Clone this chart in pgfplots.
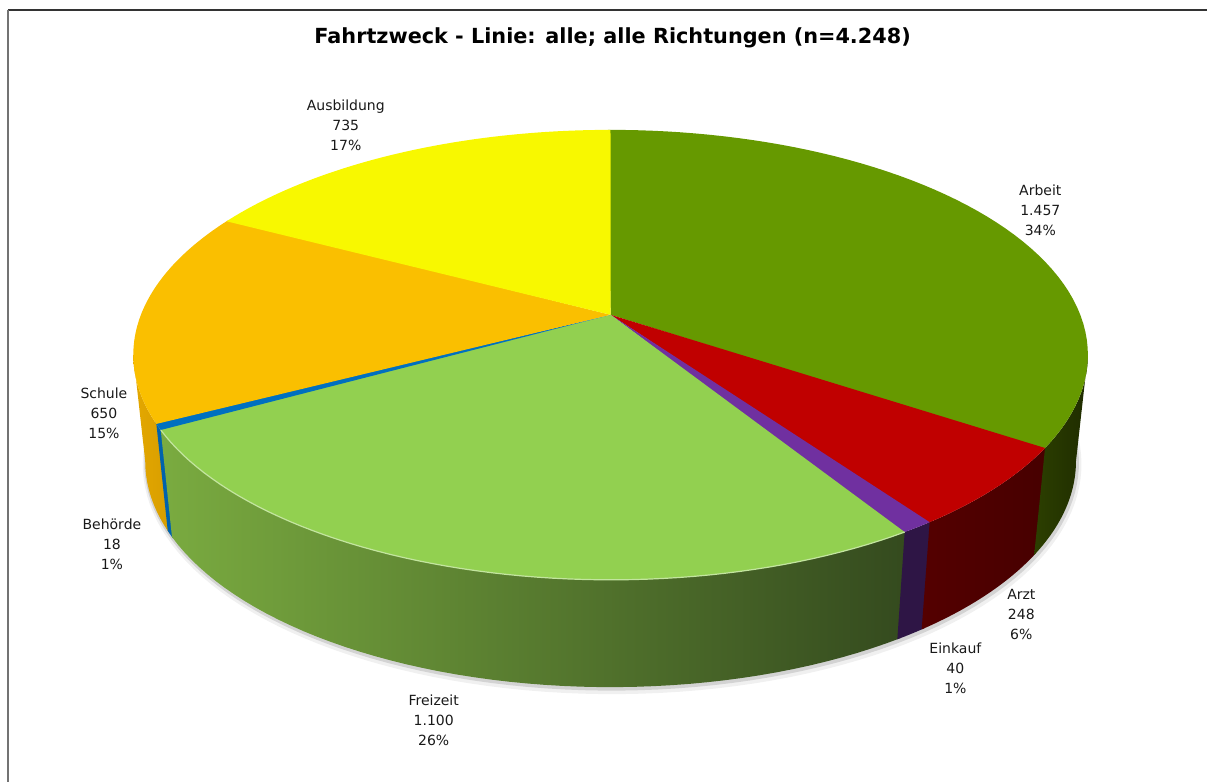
\documentclass[border=0pt]{standalone}
\usepackage{pgfplots}
\pgfplotsset{compat=1.18}
\usepackage{fontspec}
\setmainfont{DejaVu Sans}

\definecolor{cArbeit}{HTML}{669900}
\definecolor{sArbeitA}{HTML}{2C3F00}
\definecolor{sArbeitB}{HTML}{1F2C00}
\definecolor{cArzt}{HTML}{C00000}
\definecolor{sArztA}{HTML}{540000}
\definecolor{sArztB}{HTML}{470000}
\definecolor{cEinkauf}{HTML}{7030A0}
\definecolor{sEinkauf}{HTML}{2E1545}
\definecolor{cFreizeit}{HTML}{92D050}
\definecolor{sFreizeitA}{HTML}{7AAB40}
\definecolor{sFreizeitM}{HTML}{578030}
\definecolor{sFreizeitB}{HTML}{344A1E}
\definecolor{cBehoerde}{HTML}{0070C0}
\definecolor{sBehoerde}{HTML}{0062AD}
\definecolor{cSchule}{HTML}{FABF00}
\definecolor{sSchuleA}{HTML}{E4A800}
\definecolor{sSchuleB}{HTML}{D89E00}
\definecolor{cAusbildung}{HTML}{F8F800}

% data (counts)
\def\vArbeit{1457}
\def\vArzt{248}
\def\vEinkauf{40}
\def\vFreizeit{1100}
\def\vBehoerde{18}
\def\vSchule{650}
\def\vAusbildung{735}
\pgfmathsetmacro{\vTotal}{\vArbeit+\vArzt+\vEinkauf+\vFreizeit+\vBehoerde+\vSchule+\vAusbildung}
\pgfmathsetmacro{\aA}{90}
\pgfmathsetmacro{\aB}{\aA-(\vArbeit/\vTotal)*360}
\pgfmathsetmacro{\aC}{\aB-(\vArzt/\vTotal)*360}
\pgfmathsetmacro{\aD}{\aC-(\vEinkauf/\vTotal)*360}
\pgfmathsetmacro{\aE}{\aD-(\vFreizeit/\vTotal)*360}
\pgfmathsetmacro{\aF}{\aE-(\vBehoerde/\vTotal)*360}
\pgfmathsetmacro{\aG}{\aF-(\vSchule/\vTotal)*360}
\pgfmathsetmacro{\aH}{\aG-(\vAusbildung/\vTotal)*360}
\def\visL{-169.75}
\def\visR{-10.25}
\def\ov{0.4}% small overlap to hide seams

\tikzset{
  declare function={
    den(\t)=1+0.178*sin(\t);
    tx(\t)=611+470*cos(\t)/den(\t);
    ty(\t)=315-218*sin(\t)/den(\t);
    bx(\t)=611+458.25*cos(\t)/den(\t);
    by(\t)=421-212.55*sin(\t)/den(\t)-8*sin(\t);
    sx(\u,\a,\b)=(\u<50.5)*tx(\a+(\b-\a)*\u/50)+(\u>50.5)*bx(\b-(\b-\a)*(\u-51)/50);
    sy(\u,\a,\b)=(\u<50.5)*ty(\a+(\b-\a)*\u/50)+(\u>50.5)*by(\b-(\b-\a)*(\u-51)/50);
  },
}
\pgfplotsset{
  wedge/.style={draw=none, samples=60, variable=\t, forget plot},
  side/.style={draw=none, samples at={0,1,...,101}, variable=\u, forget plot},
}

\begin{document}
\begin{tikzpicture}
\begin{axis}[
  width=604pt, height=391pt, scale only axis,
  xmin=0, xmax=1208, ymin=0, ymax=782, y dir=reverse,
  hide axis, clip=false,
]
\path (axis cs:0,0) rectangle (axis cs:1208,782);
% frame
\draw[color=black!80, line width=0.8pt] (axis cs:8,10) -- (axis cs:1208,10);
\draw[color=black!55, line width=1pt] (axis cs:8,10) -- (axis cs:8,782);

% shadow under pie
\addplot[draw=black, opacity=0.06, line width=4pt, domain=-178:-2, samples=90, variable=\t, forget plot] ({bx(\t)+1.5},{by(\t)+3});
\addplot[draw=black, opacity=0.12, line width=2pt, domain=-176:-4, samples=90, variable=\t, forget plot] ({bx(\t)+1},{by(\t)+1.5});

% side faces
\addplot[side, left color=sSchuleA, right color=sSchuleB] ({sx(\u,\visL,\aF+\ov)},{sy(\u,\visL,\aF+\ov)});
\addplot[side, fill=sBehoerde] ({sx(\u,\aF,\aE+\ov)},{sy(\u,\aF,\aE+\ov)});
\addplot[side, left color=sFreizeitA, middle color=sFreizeitM, right color=sFreizeitB] ({sx(\u,\aE,\aD+\ov)},{sy(\u,\aE,\aD+\ov)});
\addplot[side, fill=sEinkauf] ({sx(\u,\aD,\aC+\ov)},{sy(\u,\aD,\aC+\ov)});
\addplot[side, left color=sArztA, right color=sArztB] ({sx(\u,\aC,\aB+\ov)},{sy(\u,\aC,\aB+\ov)});
\addplot[side, left color=sArbeitA, right color=sArbeitB] ({sx(\u,\aB,\visR)},{sy(\u,\aB,\visR)});

% top faces
\addplot[wedge, fill=cArbeit, domain=\aB-\ov:\aA+\ov] ({tx(\t)},{ty(\t)}) -- (axis cs:611,315) -- cycle;
\addplot[wedge, fill=cArzt, domain=\aC-\ov:\aB] ({tx(\t)},{ty(\t)}) -- (axis cs:611,315) -- cycle;
\addplot[wedge, fill=cEinkauf, domain=\aD-\ov:\aC] ({tx(\t)},{ty(\t)}) -- (axis cs:611,315) -- cycle;
\addplot[wedge, fill=cFreizeit, domain=\aE-\ov:\aD] ({tx(\t)},{ty(\t)}) -- (axis cs:611,315) -- cycle;
\addplot[wedge, fill=cBehoerde, domain=\aF-\ov:\aE] ({tx(\t)},{ty(\t)}) -- (axis cs:611,315) -- cycle;
\addplot[wedge, fill=cSchule, domain=\aG-\ov:\aF] ({tx(\t)},{ty(\t)}) -- (axis cs:611,315) -- cycle;
\addplot[wedge, fill=cAusbildung, domain=\aH:\aG] ({tx(\t)},{ty(\t)}) -- (axis cs:611,315) -- cycle;

% rim highlight
\addplot[draw=cFreizeit!55!white, line width=0.6pt, domain=\aE:\aD, samples=60, variable=\t, forget plot] ({tx(\t)},{ty(\t)});

% title
\node[anchor=base, font=\fontsize{10.4}{12}\selectfont\bfseries] at (axis cs:613,44) {Fahrtzweck - Linie: alle; alle Richtungen (n=4.248)};

% labels
\tikzset{lbl/.style={align=center, inner sep=0pt, font=\fontsize{7}{10}\selectfont, text=black!90}}
\node[lbl] at (axis cs:346,125) {Ausbildung\\735\\17\%};
\node[lbl] at (axis cs:1041,210) {Arbeit\\1.457\\34\%};
\node[lbl] at (axis cs:1022,615) {Arzt\\248\\6\%};
\node[lbl] at (axis cs:956,669) {Einkauf\\40\\1\%};
\node[lbl] at (axis cs:434,721) {Freizeit\\1.100\\26\%};
\node[lbl] at (axis cs:112,545) {Behörde\\18\\1\%};
\node[lbl] at (axis cs:104,414) {Schule\\650\\15\%};
\end{axis}
\end{tikzpicture}
\end{document}
